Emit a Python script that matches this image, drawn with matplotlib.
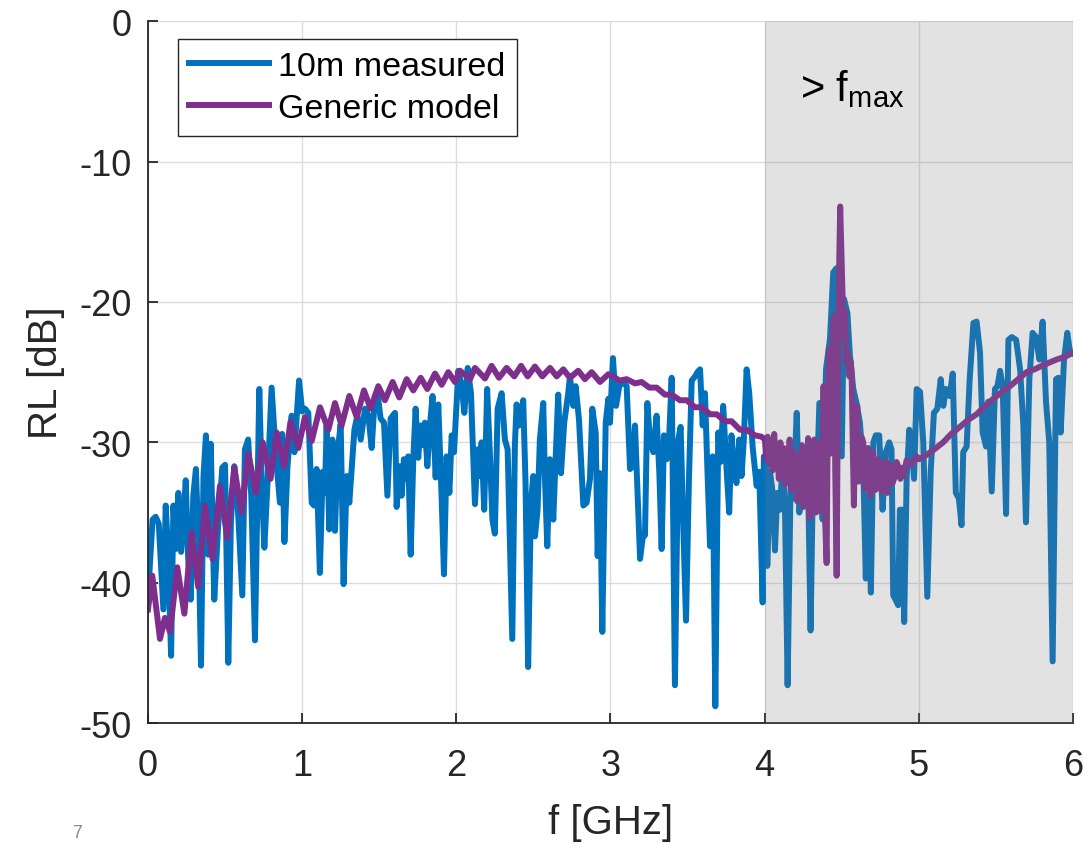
import matplotlib
matplotlib.use("Agg")
import matplotlib.pyplot as plt
import numpy as np

plt.rcParams["font.family"] = ["Liberation Sans", "DejaVu Sans"]
plt.rcParams["mathtext.default"] = "regular"
plt.rcParams["axes.unicode_minus"] = False

# 10 m cable, measured return loss
meas_f = [
    0.000, 0.030, 0.050, 0.070, 0.100, 0.115, 0.130, 0.150, 0.165, 0.180,
    0.197, 0.215, 0.230, 0.245, 0.260, 0.277, 0.294, 0.311, 0.330, 0.344,
    0.360, 0.376, 0.390, 0.407, 0.430, 0.455, 0.482, 0.500, 0.521, 0.538,
    0.560, 0.580, 0.612, 0.629, 0.650, 0.670, 0.694, 0.722, 0.740, 0.755,
    0.775, 0.802, 0.830, 0.856, 0.870, 0.885, 0.905, 0.932, 0.950, 0.980,
    1.000, 1.018, 1.040, 1.062, 1.077, 1.094, 1.115, 1.133, 1.148, 1.159,
    1.176, 1.196, 1.213, 1.230, 1.250, 1.269, 1.289, 1.306, 1.321, 1.339,
    1.358, 1.380, 1.408, 1.430, 1.451, 1.472, 1.490, 1.509, 1.531, 1.553,
    1.574, 1.602, 1.613, 1.630, 1.645, 1.660, 1.678, 1.688, 1.704, 1.721,
    1.736, 1.753, 1.768, 1.786, 1.796, 1.812, 1.829, 1.846, 1.866, 1.883,
    1.905, 1.920, 1.937, 1.955, 1.970, 1.985, 2.013, 2.035, 2.052, 2.074,
    2.095, 2.121, 2.138, 2.153, 2.164, 2.181, 2.200, 2.218, 2.234, 2.250,
    2.268, 2.294, 2.315, 2.333, 2.348, 2.363, 2.380, 2.391, 2.406, 2.434,
    2.449, 2.466, 2.484, 2.499, 2.510, 2.527, 2.542, 2.564, 2.575, 2.590,
    2.607, 2.629, 2.644, 2.661, 2.679, 2.700, 2.726, 2.737, 2.759, 2.774,
    2.796, 2.824, 2.845, 2.867, 2.882, 2.904, 2.917, 2.932, 2.947, 2.969,
    2.986, 2.997, 3.016, 3.036, 3.057, 3.083, 3.105, 3.127, 3.144, 3.159,
    3.174, 3.192, 3.209, 3.224, 3.239, 3.256, 3.278, 3.299, 3.317, 3.332,
    3.347, 3.365, 3.380, 3.397, 3.418, 3.440, 3.455, 3.472, 3.490, 3.509,
    3.527, 3.549, 3.564, 3.581, 3.598, 3.613, 3.628, 3.646, 3.663, 3.680,
    3.699, 3.714, 3.731, 3.752, 3.770, 3.785, 3.800, 3.817, 3.835, 3.850,
    3.865, 3.883, 3.900, 3.922, 3.948, 3.965, 3.987, 3.995, 4.009, 4.017,
    4.035, 4.052, 4.067, 4.082, 4.099, 4.117, 4.132, 4.149, 4.169, 4.186,
    4.208, 4.225, 4.240, 4.262, 4.279, 4.298, 4.316, 4.333, 4.355, 4.376,
    4.398, 4.424, 4.445, 4.465, 4.482, 4.500, 4.515, 4.537, 4.553, 4.575,
    4.596, 4.618, 4.640, 4.656, 4.672, 4.689, 4.705, 4.721, 4.743, 4.765,
    4.786, 4.808, 4.823, 4.834, 4.849, 4.866, 4.877, 4.895, 4.905, 4.921,
    4.938, 4.953, 4.969, 4.986, 5.008, 5.029, 5.055, 5.077, 5.098, 5.120,
    5.142, 5.159, 5.176, 5.200, 5.220, 5.240, 5.260, 5.277, 5.288, 5.310,
    5.330, 5.354, 5.375, 5.397, 5.414, 5.436, 5.451, 5.473, 5.494, 5.510,
    5.527, 5.544, 5.566, 5.581, 5.603, 5.631, 5.657, 5.678, 5.695, 5.717,
    5.738, 5.760, 5.782, 5.803, 5.825, 5.846, 5.868, 5.890, 5.905, 5.920,
    5.942, 5.963, 5.981, 6.000,
]
meas_rl = [
    -41.0, -35.5, -35.3, -35.8, -41.9, -34.5, -37.8, -45.2, -34.5, -37.6,
    -33.6, -37.8, -35.6, -32.7, -38.1, -41.2, -33.8, -31.9, -38.0, -45.9,
    -32.4, -29.5, -38.0, -30.1, -41.2, -36.0, -31.8, -31.6, -45.7, -35.7,
    -31.7, -34.0, -40.9, -30.5, -29.8, -33.8, -44.1, -26.2, -33.6, -37.5,
    -33.0, -26.1, -31.0, -34.3, -29.4, -37.1, -31.7, -28.1, -30.7, -25.6,
    -27.8, -27.6, -27.9, -34.3, -34.5, -31.9, -39.3, -32.1, -33.6, -28.8,
    -36.2, -29.8, -36.3, -30.7, -28.7, -40.1, -32.4, -34.3, -31.9, -29.1,
    -28.1, -29.8, -27.6, -28.1, -30.4, -26.7, -26.6, -28.3, -28.6, -33.8,
    -28.3, -27.9, -34.6, -31.7, -33.8, -31.2, -32.6, -31.0, -38.0, -31.2,
    -27.6, -31.1, -28.8, -30.2, -28.6, -31.7, -28.8, -26.7, -32.5, -27.3,
    -34.0, -39.4, -31.0, -33.6, -29.5, -30.7, -24.9, -26.0, -27.9, -24.7,
    -26.5, -34.4, -30.5, -32.4, -30.0, -34.8, -26.2, -30.9, -35.5, -36.5,
    -27.6, -26.5, -29.8, -30.5, -37.4, -44.0, -30.2, -27.3, -28.8, -27.0,
    -32.9, -46.0, -34.3, -32.4, -36.7, -34.8, -29.8, -27.2, -32.6, -37.4,
    -31.2, -35.5, -31.2, -26.6, -32.2, -28.6, -26.5, -25.3, -27.4, -26.0,
    -28.4, -34.5, -34.3, -32.6, -27.6, -29.3, -38.1, -32.2, -43.5, -28.6,
    -26.9, -28.6, -24.0, -27.4, -26.0, -25.7, -26.0, -31.9, -31.7, -28.8,
    -33.1, -38.3, -36.8, -36.6, -27.2, -29.8, -30.7, -28.1, -32.2, -37.6,
    -29.5, -31.2, -29.8, -25.4, -47.3, -29.8, -28.9, -35.9, -42.7, -32.6,
    -25.6, -25.3, -25.0, -24.8, -28.8, -26.5, -31.7, -37.4, -31.0, -48.8,
    -29.3, -31.4, -27.4, -31.7, -35.0, -29.5, -31.7, -32.9, -29.8, -32.4,
    -29.8, -24.8, -26.5, -30.3, -33.1, -32.1, -41.4, -31.0, -31.2, -38.8,
    -32.1, -33.6, -37.7, -33.6, -34.8, -31.4, -34.8, -47.3, -32.4, -34.0,
    -27.9, -35.0, -33.3, -34.3, -31.0, -43.4, -30.5, -34.8, -27.2, -35.5,
    -24.8, -22.6, -17.9, -17.6, -30.9, -31.0, -19.8, -20.8, -23.8, -26.2,
    -27.2, -28.6, -31.9, -39.7, -33.8, -40.7, -30.0, -29.5, -29.5, -34.8,
    -30.7, -30.0, -30.5, -40.9, -41.2, -41.6, -34.8, -34.8, -42.8, -32.6,
    -29.1, -30.0, -32.6, -26.2, -26.4, -30.0, -41.0, -32.1, -27.9, -27.6,
    -25.5, -27.4, -26.2, -26.7, -25.1, -33.6, -34.0, -35.9, -30.7, -30.3,
    -25.5, -21.5, -21.4, -23.6, -29.3, -30.3, -27.1, -33.5, -26.2, -26.0,
    -24.9, -26.0, -35.1, -22.7, -22.5, -22.7, -24.8, -28.8, -35.7, -25.5,
    -22.2, -22.5, -24.1, -21.4, -27.1, -30.0, -45.6, -25.5, -25.4, -29.3,
    -24.1, -22.2, -23.6, -23.7,
]

# generic cable model
model_f = [
    0.000, 0.028, 0.078, 0.110, 0.143, 0.190, 0.236, 0.283, 0.326, 0.370,
    0.419, 0.467, 0.514, 0.560, 0.607, 0.651, 0.700, 0.744, 0.795, 0.835,
    0.884, 0.925, 0.975, 1.018, 1.062, 1.116, 1.170, 1.213, 1.256, 1.306,
    1.354, 1.401, 1.444, 1.494, 1.537, 1.587, 1.630, 1.678, 1.721, 1.769,
    1.812, 1.862, 1.905, 1.948, 1.991, 2.024, 2.089, 2.121, 2.186, 2.229,
    2.277, 2.326, 2.376, 2.420, 2.463, 2.510, 2.558, 2.608, 2.651, 2.694,
    2.737, 2.791, 2.834, 2.878, 2.932, 2.986, 3.018, 3.057, 3.105, 3.159,
    3.202, 3.252, 3.299, 3.353, 3.397, 3.451, 3.494, 3.548, 3.592, 3.646,
    3.689, 3.743, 3.786, 3.840, 3.883, 3.937, 3.980, 4.002, 4.010, 4.020,
    4.030, 4.040, 4.052, 4.062, 4.072, 4.082, 4.092, 4.102, 4.112, 4.122,
    4.132, 4.142, 4.152, 4.162, 4.172, 4.182, 4.192, 4.202, 4.212, 4.222,
    4.232, 4.242, 4.252, 4.262, 4.272, 4.282, 4.292, 4.302, 4.312, 4.322,
    4.332, 4.342, 4.352, 4.362, 4.372, 4.382, 4.392, 4.402, 4.410, 4.417,
    4.426, 4.434, 4.442, 4.450, 4.458, 4.467, 4.476, 4.484, 4.490, 4.498,
    4.506, 4.514, 4.522, 4.530, 4.540, 4.549, 4.557, 4.564, 4.572, 4.579,
    4.588, 4.601, 4.610, 4.618, 4.628, 4.640, 4.650, 4.661, 4.672, 4.683,
    4.694, 4.705, 4.716, 4.726, 4.737, 4.748, 4.760, 4.774, 4.784, 4.795,
    4.806, 4.817, 4.830, 4.845, 4.856, 4.866, 4.880, 4.895, 4.903, 4.920,
    4.938, 4.955, 4.985, 5.000, 5.050, 5.100, 5.158, 5.210, 5.266, 5.320,
    5.375, 5.430, 5.483, 5.540, 5.591, 5.645, 5.699, 5.750, 5.807, 5.850,
    5.894, 5.950, 6.000,
]
model_rl = [
    -41.9, -39.5, -44.0, -42.5, -43.5, -38.9, -42.2, -36.4, -40.3, -34.5,
    -38.3, -33.1, -36.8, -31.8, -35.0, -30.8, -33.6, -30.0, -32.6, -29.3,
    -31.7, -28.5, -30.4, -28.2, -29.9, -27.5, -29.1, -27.2, -28.8, -26.7,
    -28.2, -26.3, -27.6, -26.0, -27.0, -25.7, -26.8, -25.5, -26.3, -25.4,
    -26.2, -25.1, -25.9, -25.0, -25.7, -24.9, -25.5, -24.7, -25.45, -24.55,
    -25.4, -24.7, -25.3, -24.55, -25.3, -24.6, -25.3, -24.7, -25.3, -24.8,
    -25.4, -24.9, -25.5, -25.0, -25.7, -25.15, -25.3, -25.6, -25.5, -25.8,
    -25.7, -26.1, -26.1, -26.6, -26.6, -27.0, -27.0, -27.5, -27.5, -28.0,
    -28.0, -28.5, -28.5, -29.1, -29.1, -29.5, -29.6, -29.8, -31.2, -29.6,
    -31.5, -29.9, -32.0, -29.4, -31.4, -30.2, -32.6, -30.0, -31.9, -30.4,
    -33.0, -30.5, -32.4, -29.8, -33.4, -30.6, -32.9, -30.9, -34.2, -31.0,
    -33.1, -30.2, -34.6, -31.2, -33.8, -29.7, -35.4, -31.5, -34.3, -29.8,
    -35.0, -31.8, -34.9, -30.0, -34.8, -26.0, -35.5, -38.6, -27.5, -23.4,
    -30.8, -28.6, -22.0, -21.0, -32.0, -39.5, -25.0, -17.0, -13.2, -16.5,
    -19.8, -22.5, -20.7, -24.3, -23.6, -25.3, -24.2, -25.0, -30.5, -34.5,
    -28.0, -27.4, -32.8, -31.9, -29.6, -30.0, -33.3, -32.9, -30.4, -33.8,
    -31.0, -30.7, -33.4, -33.3, -31.2, -31.7, -33.5, -32.9, -31.4, -33.6,
    -31.5, -31.7, -32.9, -32.4, -31.4, -31.7, -32.6, -31.8, -32.4, -31.3,
    -31.4, -31.6, -31.0, -31.2, -30.9, -30.5, -30.0, -29.4, -28.9, -28.4,
    -28.0, -27.4, -26.9, -26.4, -26.0, -25.5, -25.0, -24.8, -24.5, -24.3,
    -24.1, -23.9, -23.6,
]

x_ticks = [0, 1, 2, 3, 4, 5, 6]
y_ticks = [0, -10, -20, -30, -40, -50]
f_max = 4.0

fig = plt.figure(figsize=(10.88, 8.45), dpi=100)
ax = fig.add_axes([0.136, 0.143, 0.8502, 0.8308])

ax.plot(meas_f, meas_rl, color="#0072BD", lw=4.3, solid_joinstyle="round",
        label="10m measured", zorder=2)
ax.plot(model_f, model_rl, color="#7E2F8E", lw=4.3, solid_joinstyle="round",
        label="Generic model", zorder=2.1)

# region above the maximum frequency, laid over the curves
ax.axvspan(f_max, x_ticks[-1], color="#7f7f7f", alpha=0.22, lw=0, zorder=3)
ax.text(4.23, -4.8, "> f$_{max}$", fontsize=30, ha="left", va="center",
        color="black", zorder=4)

ax.set_xlim(0, 6)
ax.set_ylim(-50, 0)
ax.set_xticks(x_ticks)
ax.set_yticks(y_ticks)
ax.grid(True, color="#dcdcdc", lw=1.0, zorder=0)
ax.set_axisbelow(True)

for side in ("top", "right"):
    ax.spines[side].set_visible(False)
for side in ("left", "bottom"):
    ax.spines[side].set_color("#262626")
    ax.spines[side].set_linewidth(1.3)
ax.tick_params(direction="in", length=7, width=1.3, colors="#262626",
               labelsize=26)
ax.tick_params(axis="x", pad=18)
ax.tick_params(axis="y", pad=12)

ax.set_xlabel("f [GHz]", fontsize=29, color="#262626", labelpad=14)
ax.set_ylabel("RL [dB]", fontsize=29, color="#262626", labelpad=10)

leg = ax.legend(loc="upper left", bbox_to_anchor=(0.032, 0.975), fontsize=24.5,
                handlelength=2.35, handletextpad=0.25, borderpad=0.35,
                labelspacing=0.33, fancybox=False, framealpha=1,
                borderaxespad=0)
leg.get_frame().set_edgecolor("#262626")
leg.get_frame().set_linewidth(1.0)
leg.set_zorder(5)

# page number at the bottom edge
fig.text(0.066, 0.004, "7", fontsize=13, color="#8c8c8c", va="bottom")

fig.savefig("out.png", dpi=100)
